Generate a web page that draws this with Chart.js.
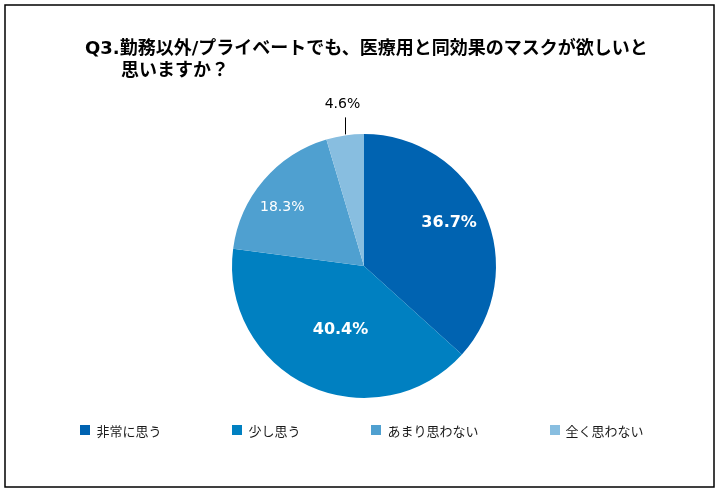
<!DOCTYPE html>
<html lang="ja">
<head>
<meta charset="utf-8">
<title>Q3 医療用と同効果のマスク</title>
<script src="https://cdn.jsdelivr.net/npm/chart.js@4.4.1/dist/chart.umd.min.js"></script>
<style>
  html, body { margin: 0; padding: 0; background: #fff; }
  canvas { display: block; }
</style>
</head>
<body>
<canvas id="maskChart" width="721" height="494"></canvas>
<script>
// 回答の選択肢
const answers = ["非常に思う", "少し思う", "あまり思わない", "全く思わない"];
// 回答率 (%)
const ratios = [36.7, 40.4, 18.3, 4.6];
// タイトル (2行目は字下げ)
const titleLines = ["Q3.勤務以外/プライベートでも、医療用と同効果のマスクが欲しいと", "思いますか？"];

const sliceColors = ["#0063B1", "#0080C1", "#4FA0D0", "#88BEE0"];
// ラベルの位置 (半径に対する割合、null は外側に引き出し線)
const labelRadius = [0.73, 0.5, 0.77, null];
const labelFonts = [
    'bold 16px "DejaVu Sans", sans-serif',
    'bold 16px "DejaVu Sans", sans-serif',
    '14px "DejaVu Sans", sans-serif',
    '14px "DejaVu Sans", sans-serif'
];

// 外枠とタイトル
const framePlugin = {
    id: "frame",
    beforeDraw(chart) {
        const ctx = chart.ctx;
        ctx.save();
        ctx.fillStyle = "#fff";
        ctx.fillRect(0, 0, chart.width, chart.height);
        ctx.strokeStyle = "#000";
        ctx.lineWidth = 1.5;
        ctx.strokeRect(5, 5, 709, 482);

        ctx.fillStyle = "#000";
        ctx.font = 'bold 18px "DejaVu Sans", "Noto Sans CJK JP", sans-serif';
        ctx.textAlign = "left";
        ctx.textBaseline = "middle";
        ctx.fillText(titleLines[0], 85, 49);
        ctx.fillText(titleLines[1], 121, 71);
        ctx.restore();
    }
};

// 扇形のパーセント表示
const pieLabels = {
    id: "pieLabels",
    afterDatasetsDraw(chart) {
        const ctx = chart.ctx;
        const meta = chart.getDatasetMeta(0);
        ctx.save();
        ctx.textAlign = "center";
        ctx.textBaseline = "middle";
        meta.data.forEach((arc, i) => {
            const p = arc.getProps(["x", "y", "startAngle", "endAngle", "outerRadius"], true);
            const mid = (p.startAngle + p.endAngle) / 2;
            const text = ratios[i].toFixed(1) + "%";
            ctx.font = labelFonts[i];
            if (labelRadius[i] === null) {
                // 小さい扇形は外側に線を引いて表示
                const ex = Math.round(p.x + p.outerRadius * Math.cos(mid)) + 0.5;
                const ey = p.y + p.outerRadius * Math.sin(mid);
                ctx.strokeStyle = "#000";
                ctx.lineWidth = 1;
                ctx.beginPath();
                ctx.moveTo(ex, ey - 1);
                ctx.lineTo(ex, ey - 18);
                ctx.stroke();
                ctx.fillStyle = "#000";
                ctx.fillText(text, ex - 3, ey - 31);
            } else {
                const a = mid - 4 * Math.PI / 180;
                const r = p.outerRadius * labelRadius[i];
                ctx.fillStyle = "#fff";
                ctx.fillText(text, p.x + r * Math.cos(a), p.y + r * Math.sin(a) + 2);
            }
        });
        ctx.restore();
    }
};

// 凡例 (項目の間隔を広く取るため自前で描画)
const bottomLegend = {
    id: "bottomLegend",
    afterDraw(chart) {
        const ctx = chart.ctx;
        ctx.save();
        ctx.font = '13px "Noto Sans CJK JP", sans-serif';
        ctx.textAlign = "left";
        ctx.textBaseline = "middle";
        const labels = chart.data.labels;
        const colors = chart.data.datasets[0].backgroundColor;
        const itemW = labels.map(t => 16 + ctx.measureText(t).width);
        const gap = 71;
        const total = itemW.reduce((a, b) => a + b, 0) + gap * (labels.length - 1);
        let x = 362 - total / 2;
        const y = 430;
        labels.forEach((t, i) => {
            ctx.fillStyle = colors[i];
            ctx.fillRect(Math.round(x), y - 5, 10, 10);
            ctx.fillStyle = "#1a1a1a";
            ctx.fillText(t, x + 16, y + 1);
            x += itemW[i] + gap;
        });
        ctx.restore();
    }
};

const ctx = document.getElementById("maskChart").getContext("2d");
new Chart(ctx, {
    type: "pie",
    data: {
        labels: answers,
        datasets: [{
            data: ratios,
            backgroundColor: sliceColors,
            borderWidth: 0,
            radius: 132
        }]
    },
    options: {
        responsive: false,
        animation: false,
        layout: {
            padding: { left: 85, right: 78, top: 91, bottom: 53 }
        },
        plugins: {
            legend: { display: false },
            tooltip: { enabled: false },
            title: { display: false }
        }
    },
    plugins: [framePlugin, pieLabels, bottomLegend]
});
</script>
</body>
</html>
